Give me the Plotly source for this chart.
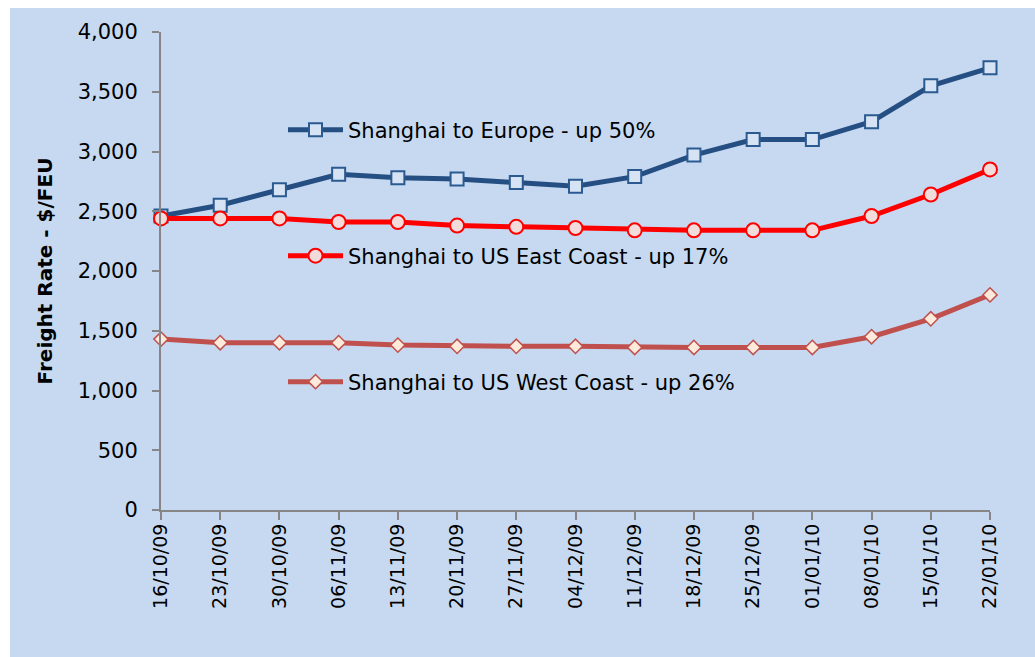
import plotly.graph_objects as go

dates = ["16/10/09", "23/10/09", "30/10/09", "06/11/09", "13/11/09", "20/11/09", "27/11/09",
         "04/12/09", "11/12/09", "18/12/09", "25/12/09", "01/01/10", "08/01/10", "15/01/10", "22/01/10"]
europe = [2460, 2550, 2680, 2810, 2780, 2770, 2740, 2710, 2790, 2970, 3100, 3100, 3250, 3550, 3700]
us_east = [2440, 2440, 2440, 2410, 2410, 2380, 2370, 2360, 2340, 2340, 2340, 2340, 2460, 2640, 2850]
us_west = [1430, 1400, 1400, 1400, 1380, 1370, 1370, 1370, 1360, 1360, 1360, 1360, 1450, 1600, 1800]
names = ["Shanghai to Europe - up 50%", "Shanghai to US East Coast - up 17%", "Shanghai to US West Coast - up 26%"]
y_ticks = [0, 500, 1000, 1500, 2000, 2500, 3000, 3500, 4000]

W, H = 1035, 657
L, R, T, B = 161, 45, 32, 147
pw, ph = W - L - R, H - T - B

def px_x(p):
    return (p - L) / pw

def px_y(p):
    return (H - B - p) / ph

FONT = "DejaVu Sans"
BG = "#C6D9F1"

fig = go.Figure()
fig.add_trace(go.Scatter(
    x=dates, y=europe, name=names[0], mode="lines+markers", legend="legend",
    line=dict(color="#254F83", width=5),
    marker=dict(symbol="square", size=13, color="#D6E3F4", line=dict(color="#2A5A90", width=2)),
    cliponaxis=False))
fig.add_trace(go.Scatter(
    x=dates, y=us_east, name=names[1], mode="lines+markers", legend="legend2",
    line=dict(color="#FF0000", width=5),
    marker=dict(symbol="circle", size=14, color="#F2DCDB", line=dict(color="#FF0000", width=2)),
    cliponaxis=False))
fig.add_trace(go.Scatter(
    x=dates, y=us_west, name=names[2], mode="lines+markers", legend="legend3",
    line=dict(color="#C0504D", width=5),
    marker=dict(symbol="diamond", size=11, color="#FDEADA", line=dict(color="#C0504D", width=1.5)),
    cliponaxis=False))

leg_common = dict(xanchor="left", yanchor="middle", bgcolor="rgba(0,0,0,0)",
                  font=dict(family=FONT, size=21, color="black"), itemwidth=55,
                  itemclick=False, itemdoubleclick=False)

fig.update_layout(
    width=W, height=H,
    margin=dict(l=L, r=R, t=T, b=B, pad=0),
    paper_bgcolor="white",
    plot_bgcolor="rgba(0,0,0,0)",
    hovermode=False,
    showlegend=True,
    legend=dict(x=px_x(283), y=px_y(130), **leg_common),
    legend2=dict(x=px_x(283), y=px_y(256), **leg_common),
    legend3=dict(x=px_x(283), y=px_y(382), **leg_common),
    shapes=[dict(type="rect", xref="paper", yref="paper", layer="below",
                 x0=px_x(10), x1=px_x(W + 5), y0=px_y(H + 5), y1=px_y(8),
                 fillcolor=BG, line=dict(width=0))],
    xaxis=dict(
        type="category", range=[0, len(dates) - 1],
        showgrid=False, zeroline=False,
        showline=True, linecolor="#868686", linewidth=2,
        ticks="outside", ticklen=8, tickwidth=1.5, tickcolor="#868686",
        ticklabelstandoff=-4,
        tickangle=-90, tickfont=dict(family=FONT, size=19, color="black")),
    yaxis=dict(
        range=[0, 4000], tickvals=y_ticks, tickformat=",d",
        showgrid=False, zeroline=False,
        showline=True, linecolor="#868686", linewidth=2,
        ticks="outside", ticklen=7, tickwidth=1.5, tickcolor="#868686",
        ticklabelstandoff=10,
        tickfont=dict(family=FONT, size=21, color="black"),
        title=dict(text="<b>Freight Rate - $/FEU</b>", standoff=20,
                   font=dict(family=FONT, size=20, color="black"))),
)

fig.write_html("out.html", config={"displayModeBar": False},
               post_script="document.body.style.margin='0';document.body.style.overflow='hidden';")
